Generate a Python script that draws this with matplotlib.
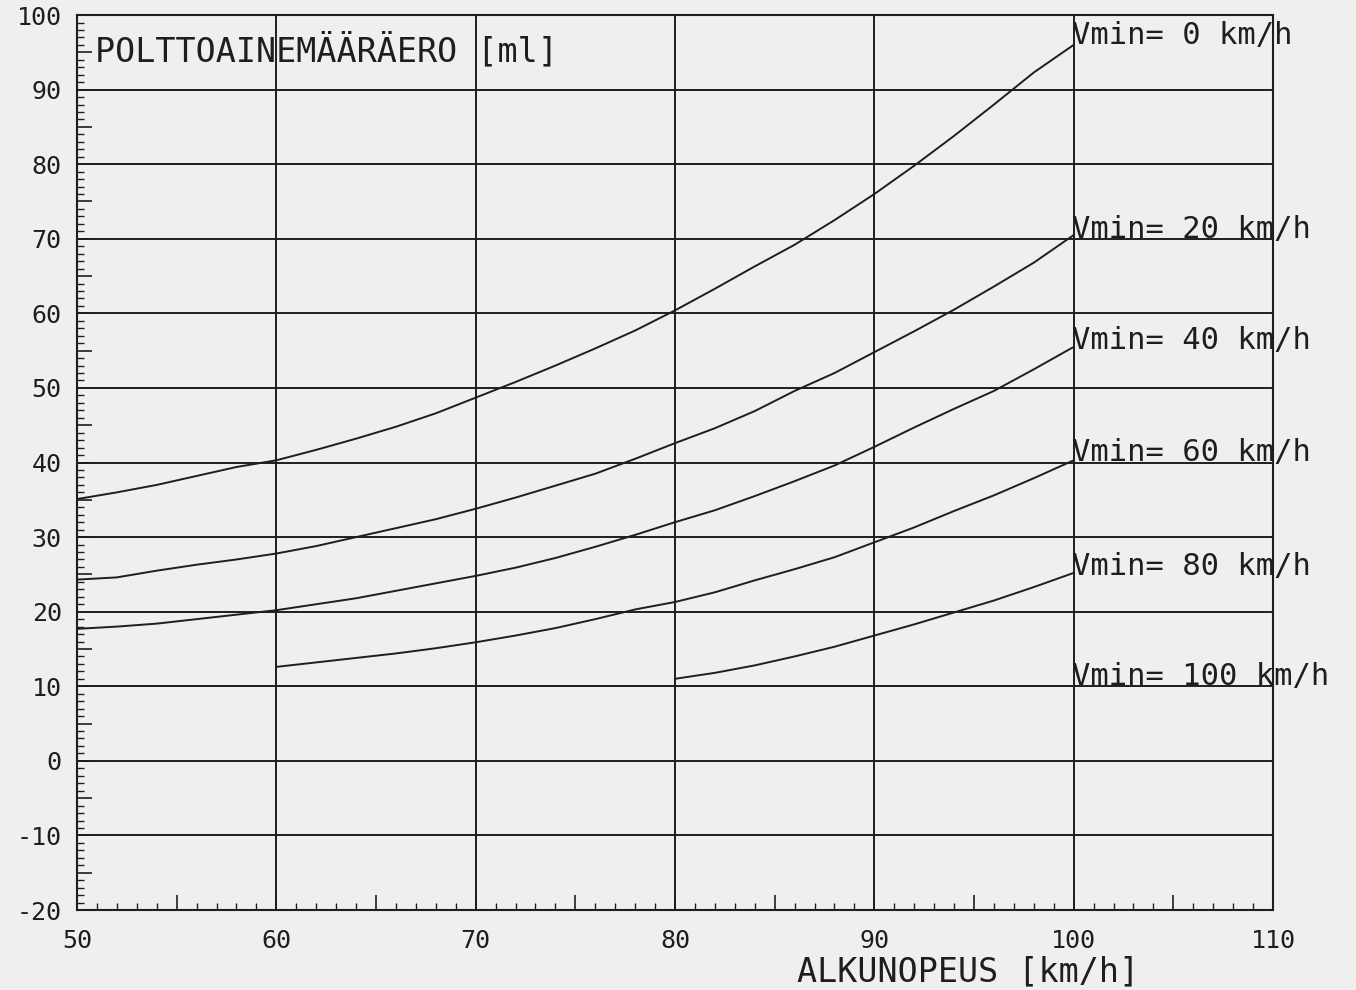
import numpy as np
import matplotlib
matplotlib.use("Agg")
import matplotlib.pyplot as plt
from matplotlib.ticker import MultipleLocator, FuncFormatter

plt.rcParams["font.family"] = "DejaVu Sans Mono"

# initial speed [km/h] and fuel difference [ml] for each minimum speed
speed = [50, 52, 54, 56, 58, 60, 62, 64, 66, 68, 70, 72, 74, 76, 78,
         80, 82, 84, 86, 88, 90, 92, 94, 96, 98, 100]

fuel_v0 = [35.1, 36.0, 37.0, 38.2, 39.4, 40.3, 41.7, 43.2, 44.8, 46.6, 48.7,
           50.8, 53.0, 55.3, 57.7, 60.4, 63.3, 66.3, 69.2, 72.5, 76.0, 79.8,
           83.8, 88.0, 92.3, 96.0]
fuel_v20 = [24.3, 24.6, 25.5, 26.3, 27.0, 27.8, 28.8, 30.0, 31.2, 32.4, 33.8,
            35.3, 36.9, 38.5, 40.5, 42.6, 44.6, 46.9, 49.6, 52.0, 54.8, 57.6,
            60.5, 63.6, 66.8, 70.5]
fuel_v40 = [17.7, 18.0, 18.4, 19.0, 19.6, 20.2, 21.0, 21.8, 22.8, 23.8, 24.8,
            25.9, 27.2, 28.7, 30.3, 32.0, 33.6, 35.5, 37.5, 39.6, 42.1, 44.7,
            47.2, 49.6, 52.5, 55.5]
fuel_v60 = [12.6, 13.2, 13.8, 14.4, 15.1, 15.9, 16.8, 17.8, 19.0, 20.3, 21.3,
            22.6, 24.2, 25.7, 27.3, 29.3, 31.3, 33.5, 35.6, 37.9, 40.3]
fuel_v80 = [11.0, 11.8, 12.8, 14.0, 15.3, 16.8, 18.3, 19.9, 21.5, 23.3, 25.2]

vmin = [0, 20, 40, 60, 80, 100]
label_y = [97.2, 71.3, 56.3, 41.4, 26.1, 11.3]

curves = [
    (speed, fuel_v0),
    (speed, fuel_v20),
    (speed, fuel_v40),
    (speed[5:], fuel_v60),
    (speed[15:], fuel_v80),
]

paper = "#efefef"
ink = "#1e1e1e"

fig = plt.figure(figsize=(13.56, 9.9), dpi=100, facecolor=paper)
ax = fig.add_axes([0.0568, 0.0808, 0.882, 0.904], facecolor=paper)

ax.set_xlim(50, 110)
ax.set_ylim(-20, 100)

for x in range(60, 110, 10):
    ax.axvline(x, color=ink, lw=1.4, zorder=1)
for y in range(-10, 100, 10):
    ax.axhline(y, color=ink, lw=1.4, zorder=1)

for xs, ys in curves:
    ax.plot(xs, ys, color=ink, lw=1.4, zorder=2)

for v, ly in zip(vmin, label_y):
    ax.text(99.9, ly, "Vmin= {} km/h".format(v), fontsize=22, color=ink,
            ha="left", va="center", clip_on=False)

ax.text(50.9, 95.2, "POLTTOAINEMÄÄRÄERO [ml]", fontsize=24, color=ink,
        ha="left", va="center")
ax.text(86.1, -28.3, "ALKUNOPEUS [km/h]", fontsize=24, color=ink,
        ha="left", va="center", clip_on=False)

ten_only = FuncFormatter(lambda v, pos: "{:d}".format(int(round(v)))
                         if round(v) % 10 == 0 else "")
ax.xaxis.set_major_locator(MultipleLocator(5))
ax.yaxis.set_major_locator(MultipleLocator(5))
ax.xaxis.set_minor_locator(MultipleLocator(1))
ax.yaxis.set_minor_locator(MultipleLocator(1))
ax.xaxis.set_major_formatter(ten_only)
ax.yaxis.set_major_formatter(ten_only)

ax.tick_params(which="major", direction="in", length=11, width=1.2,
               color=ink, labelsize=18, labelcolor=ink)
ax.tick_params(which="minor", direction="in", length=5, width=1.0, color=ink)
ax.tick_params(axis="x", which="major", pad=14)
ax.tick_params(axis="y", which="major", pad=11)

for s in ax.spines.values():
    s.set_color(ink)
    s.set_linewidth(1.5)

fig.savefig("out.png", dpi=100, facecolor=paper)
